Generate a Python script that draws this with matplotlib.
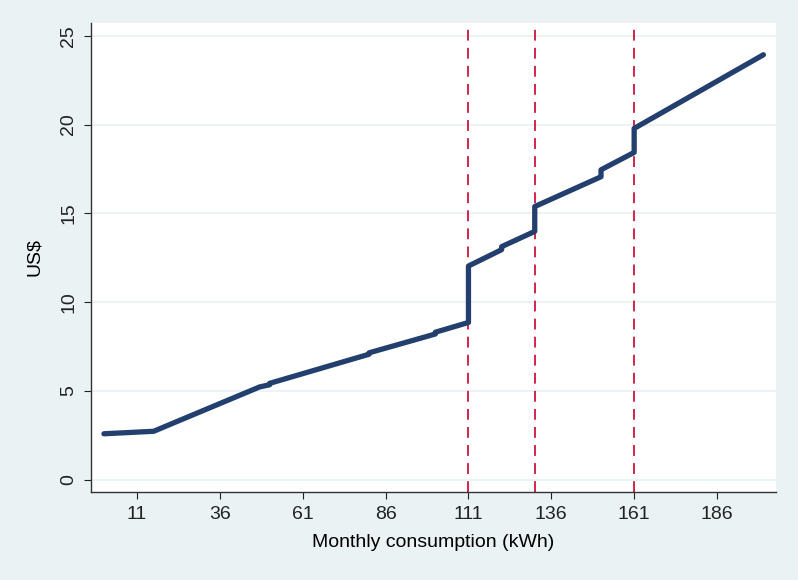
import matplotlib.pyplot as plt

plt.rcParams['font.family'] = ['Liberation Sans', 'DejaVu Sans']

# monthly bill (US$) by consumption (kWh)
kwh = [1, 16, 48, 51, 51, 81, 81, 101, 101, 111, 111, 121, 121, 131, 131,
       151, 151, 161, 161, 200]
bill = [2.58, 2.72, 5.22, 5.34, 5.42, 7.06, 7.14, 8.2, 8.3, 8.85, 12.03,
        12.95, 13.12, 13.98, 15.38, 17.06, 17.45, 18.43, 19.78, 23.93]

# block thresholds
thresholds = [111, 131, 161]

xticks = [11, 36, 61, 86, 111, 136, 161, 186]
yticks = [0, 5, 10, 15, 20, 25]

bg = '#eaf2f3'
fig = plt.figure(figsize=(7.98, 5.80), dpi=100, facecolor=bg)
ax = fig.add_axes([91/798, 88/580, 685/798, 469/580])
ax.set_facecolor('white')

for y in yticks:
    ax.axhline(y, color=bg, lw=1.3, zorder=0)

for t in thresholds:
    ax.axvline(t, color='#cf1440', lw=1.3, ls=(0, (6, 4)), zorder=1)

ax.plot(kwh, bill, color='#233f6e', lw=3.8, solid_capstyle='round',
        solid_joinstyle='round', zorder=2)

ax.set_xlim(-2.9, 203.8)
ax.set_ylim(-0.7, 25.72)
ax.set_xticks(xticks)
ax.set_yticks(yticks)
ax.tick_params(axis='both', direction='out', length=5, width=0.8,
               labelsize=14, colors='#222222')
ax.tick_params(axis='x', pad=5)
ax.tick_params(axis='y', labelrotation=90, pad=5)
for lab in ax.get_yticklabels():
    lab.set_va('center')

for s in ['top', 'right']:
    ax.spines[s].set_visible(False)
for s in ['left', 'bottom']:
    ax.spines[s].set_color('#333333')
    ax.spines[s].set_linewidth(1.0)

ax.set_xlabel('Monthly consumption (kWh)', fontsize=14, labelpad=8)
ax.set_ylabel('US$', fontsize=14, labelpad=12)

fig.savefig('out.png', dpi=100, facecolor=bg)
